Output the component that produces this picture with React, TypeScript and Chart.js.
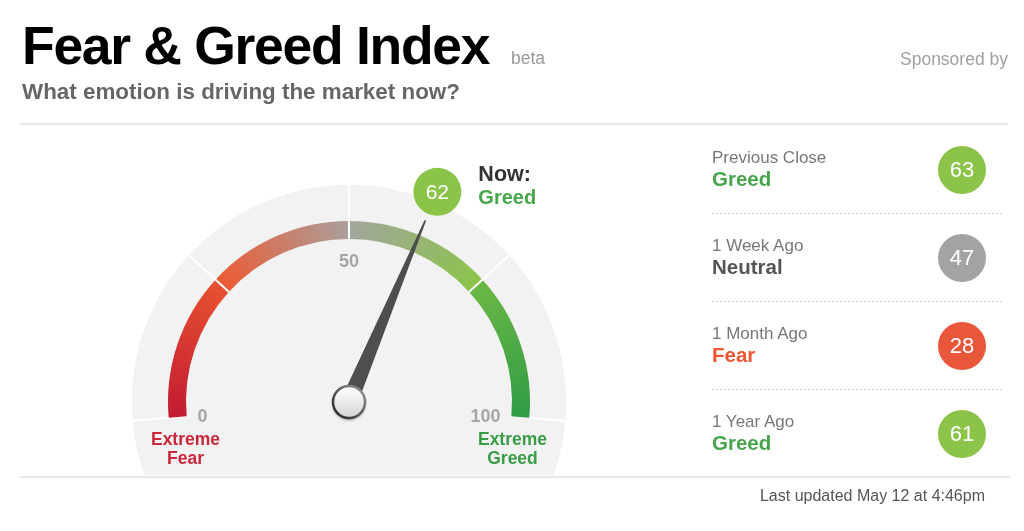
import React, { useEffect, useRef } from "react";
import { Chart, registerables } from "chart.js";

Chart.register(...registerables);

// ---------------- data ----------------
const zoneEdges = [0, 25, 50, 75, 100];
const zoneSizes = [25, 25, 25, 25];
const gaugeTicks = [0, 50, 100];
const extremeLabels = [["Extreme", "Fear"], ["Extreme", "Greed"]];
const currentValue = 62;
const historyLabels = ["Previous Close", "1 Week Ago", "1 Month Ago", "1 Year Ago"];
const historyValues = [63, 47, 28, 61];
const moodNames = ["Extreme Fear", "Fear", "Neutral", "Greed", "Extreme Greed"];
const moodUpper = [25, 45, 55, 75, 100];
const lastUpdated = "Last updated May 12 at 4:46pm";

// ---------------- styles ----------------
const moodTextColors = ["#c9283b", "#ec5632", "#555555", "#47a64c", "#3a9d46"];
const moodBadgeColors = ["#c9283b", "#e9573a", "#a3a3a3", "#8cc44a", "#3a9d46"];
const zoneGradients = [
  ["#c21b33", "#e8522f"],
  ["#ec5a33", "#ab9f9c"],
  ["#a2a69d", "#8cc44a"],
  ["#6cb845", "#2f9c46"],
];
const FONT = "'Liberation Sans', Arial, Helvetica, sans-serif";
const W = 1024;
const H = 531;
const CX = 349;
const CY = 402;
const R = 181;
const INNER = 163;
const SPAN = 190;
const OVERHANG = Math.sin((((SPAN - 180) / 2) * Math.PI) / 180);

function moodIndex(v: number) {
  for (let i = 0; i < moodUpper.length; i++) if (v <= moodUpper[i]) return i;
  return moodUpper.length - 1;
}

function geom(chart: any) {
  const meta = chart.getDatasetMeta(0);
  const arcs = meta.data as any[];
  if (!arcs || !arcs.length) return null;
  const first = arcs[0];
  const last = arcs[arcs.length - 1];
  return {
    cx: first.x as number,
    cy: first.y as number,
    outer: first.outerRadius as number,
    inner: first.innerRadius as number,
    a0: first.startAngle as number,
    a1: last.endAngle as number,
    disc: (first.outerRadius as number) * 1.2,
  };
}

const angleOf = (g: any, v: number) => g.a0 + (v / 100) * (g.a1 - g.a0);

const gaugePlugin = {
  id: "fearGreedGauge",
  beforeDatasetsDraw(chart: any) {
    const g = geom(chart);
    if (!g) return;
    const ctx = chart.ctx as CanvasRenderingContext2D;
    ctx.save();
    ctx.beginPath();
    ctx.rect(0, 0, chart.width, g.cy + 73);
    ctx.clip();
    ctx.beginPath();
    ctx.arc(g.cx, g.cy, g.disc, 0, Math.PI * 2);
    ctx.fillStyle = "#f2f2f2";
    ctx.fill();
    ctx.restore();
  },
  afterDatasetsDraw(chart: any) {
    const g = geom(chart);
    if (!g) return;
    const ctx = chart.ctx as CanvasRenderingContext2D;
    const { cx, cy } = g;
    ctx.save();

    // dividers
    ctx.strokeStyle = "#ffffff";
    ctx.lineWidth = 2;
    zoneEdges.forEach((v) => {
      const t = angleOf(g, v);
      const r0 = v === 0 || v === 100 ? g.outer : g.inner - 1;
      const r1 = g.disc + 1;
      ctx.beginPath();
      ctx.moveTo(cx + Math.cos(t) * r0, cy + Math.sin(t) * r0);
      ctx.lineTo(cx + Math.cos(t) * r1, cy + Math.sin(t) * r1);
      ctx.stroke();
    });

    // tick labels
    ctx.font = `bold 18px ${FONT}`;
    ctx.fillStyle = "#a6a6a6";
    ctx.textBaseline = "middle";
    gaugeTicks.forEach((v) => {
      const t = angleOf(g, v);
      if (v === 0 || v === 100) {
        ctx.textAlign = v === 0 ? "left" : "right";
        ctx.fillText(String(v), cx + Math.cos(t) * 152, cy + Math.sin(t) * 152 + 1.5);
      } else {
        ctx.textAlign = "center";
        ctx.fillText(String(v), cx + Math.cos(t) * 139.5, cy + Math.sin(t) * 139.5);
      }
    });

    // extreme labels
    ctx.font = `bold 17.5px ${FONT}`;
    ctx.textAlign = "center";
    extremeLabels.forEach((lines, i) => {
      const x = cx + (i === 0 ? -163.5 : 163.5);
      ctx.fillStyle = i === 0 ? moodTextColors[0] : moodTextColors[4];
      ctx.fillText(lines[0], x, cy + 38);
      ctx.fillText(lines[1], x, cy + 57.5);
    });

    // needle
    const th = angleOf(g, currentValue);
    const dx = Math.cos(th);
    const dy = Math.sin(th);
    const px = -dy;
    const py = dx;
    const L = g.outer * (197 / 181);
    const tx = cx + dx * L;
    const ty = cy + dy * L;
    ctx.beginPath();
    ctx.moveTo(cx + px * 8.5, cy + py * 8.5);
    ctx.lineTo(tx + px * 0.8, ty + py * 0.8);
    ctx.lineTo(tx - px * 0.8, ty - py * 0.8);
    ctx.lineTo(cx - px * 8.5, cy - py * 8.5);
    ctx.closePath();
    ctx.fillStyle = "#4e4e4e";
    ctx.fill();

    // pivot
    ctx.save();
    ctx.shadowColor = "rgba(0,0,0,0.4)";
    ctx.shadowBlur = 3;
    ctx.shadowOffsetY = 2;
    ctx.beginPath();
    ctx.arc(cx, cy, 16, 0, Math.PI * 2);
    const pg = ctx.createLinearGradient(0, cy - 15, 0, cy + 15);
    pg.addColorStop(0, "#ffffff");
    pg.addColorStop(1, "#d4d4d4");
    ctx.fillStyle = pg;
    ctx.fill();
    ctx.restore();
    ctx.beginPath();
    ctx.arc(cx, cy, 16, 0, Math.PI * 2);
    const sg = ctx.createLinearGradient(cx + 12, cy - 12, cx - 12, cy + 12);
    sg.addColorStop(0, "#8a8a8a");
    sg.addColorStop(1, "#2e2e2e");
    ctx.strokeStyle = sg;
    ctx.lineWidth = 2.5;
    ctx.stroke();

    // value bubble
    const mi = moodIndex(currentValue);
    const bR = g.outer * (228 / 181);
    const bx = cx + dx * bR;
    const by = cy + dy * bR;
    ctx.beginPath();
    ctx.arc(bx, by, 24, 0, Math.PI * 2);
    ctx.fillStyle = moodBadgeColors[mi];
    ctx.fill();
    ctx.fillStyle = "#ffffff";
    ctx.font = `21px ${FONT}`;
    ctx.textAlign = "center";
    ctx.textBaseline = "middle";
    ctx.fillText(String(currentValue), bx, by + 1);

    // Now: label
    ctx.textAlign = "left";
    ctx.textBaseline = "alphabetic";
    ctx.font = `bold 21.5px ${FONT}`;
    ctx.fillStyle = "#333333";
    ctx.fillText("Now:", bx + 41, by - 11.3);
    ctx.font = `bold 20px ${FONT}`;
    ctx.fillStyle = moodTextColors[mi];
    ctx.fillText(moodNames[mi], bx + 41, by + 12.3);

    ctx.restore();
  },
};

function Txt(props: {
  left?: number;
  right?: number;
  top: number;
  size: number;
  color: string;
  bold?: boolean;
  ls?: number;
  children: React.ReactNode;
}) {
  const { left, right, top, size, color, bold, ls, children } = props;
  return (
    <div
      style={{
        position: "absolute",
        left,
        right,
        top,
        fontSize: size,
        lineHeight: 1,
        color,
        fontWeight: bold ? 700 : 400,
        letterSpacing: ls ?? 0,
        whiteSpace: "nowrap",
        fontFamily: FONT,
      }}
    >
      {children}
    </div>
  );
}

export default function App() {
  const ref = useRef<HTMLCanvasElement>(null);

  useEffect(() => {
    const canvas = ref.current;
    if (!canvas) return;
    const chart = new Chart(canvas, {
      type: "doughnut",
      data: {
        labels: zoneEdges.slice(0, -1).map((e, i) => `${e}-${zoneEdges[i + 1]}`),
        datasets: [
          {
            data: zoneSizes,
            borderWidth: 0,
            backgroundColor: (c: any) => {
              const i = c.dataIndex ?? 0;
              const area = c.chart.chartArea;
              const stops = zoneGradients[i] || zoneGradients[0];
              if (!area) return stops[0];
              const r = (area.right - area.left) / 2;
              const cx = (area.left + area.right) / 2;
              const cy = area.top + r;
              const start = ((-90 - SPAN / 2) * Math.PI) / 180;
              const grad = c.chart.ctx.createConicGradient(start, cx, cy);
              const f0 = ((zoneEdges[i] / 100) * SPAN) / 360;
              const f1 = ((zoneEdges[i + 1] / 100) * SPAN) / 360;
              grad.addColorStop(f0, stops[0]);
              grad.addColorStop(f1, stops[1]);
              return grad;
            },
          },
        ],
      },
      options: {
        responsive: false,
        animation: false,
        events: [],
        rotation: -SPAN / 2,
        circumference: SPAN,
        cutout: `${(INNER / R) * 100}%`,
        spacing: 0,
        layout: {
          padding: {
            left: CX - R,
            right: W - CX - R,
            top: CY - R,
            bottom: H - (CY - R) - R * (1 + OVERHANG),
          },
        },
        plugins: {
          legend: { display: false },
          tooltip: { enabled: false },
          title: { display: false },
        },
      },
      plugins: [gaugePlugin],
    } as any);
    return () => chart.destroy();
  }, []);

  return (
    <div
      style={{
        position: "fixed",
        left: 0,
        top: 0,
        width: W,
        height: H,
        background: "#ffffff",
        overflow: "hidden",
        fontFamily: FONT,
      }}
    >
      <canvas
        ref={ref}
        width={W}
        height={H}
        style={{ position: "absolute", left: 0, top: 0, width: W, height: H }}
      />
      <Txt left={22} top={19} size={53.5} color="#000000" bold ls={-1.3}>
        Fear &amp; Greed Index
      </Txt>
      <Txt left={511} top={49.5} size={17.5} color="#9a9a9a">
        beta
      </Txt>
      <Txt left={22} top={81} size={22.4} color="#666666" bold>
        What emotion is driving the market now?
      </Txt>
      <Txt right={16} top={51.2} size={17.5} color="#a0a0a0">
        Sponsored by
      </Txt>
      <div style={{ position: "absolute", left: 20, top: 123, width: 988, height: 2, background: "#e8e8e8" }} />
      <div style={{ position: "absolute", left: 20, top: 476, width: 990, height: 2, background: "#e8e8e8" }} />

      {historyLabels.map((lab, i) => {
        const v = historyValues[i];
        const mi = moodIndex(v);
        return (
          <React.Fragment key={lab}>
            <Txt left={712} top={148.9 + 88 * i} size={17} color="#777777">
              {lab}
            </Txt>
            <Txt left={712} top={169.4 + 88 * i} size={20.5} color={moodTextColors[mi]} bold>
              {moodNames[mi]}
            </Txt>
            <div
              style={{
                position: "absolute",
                left: 962 - 24,
                top: 169.5 + 88 * i - 24,
                width: 48,
                height: 48,
                borderRadius: "50%",
                background: moodBadgeColors[mi],
                color: "#ffffff",
                fontSize: 22,
                display: "flex",
                alignItems: "center",
                justifyContent: "center",
                fontFamily: FONT,
              }}
            >
              {v}
            </div>
            {i < historyLabels.length - 1 && (
              <div
                style={{
                  position: "absolute",
                  left: 712,
                  top: 213 + 88 * i,
                  width: 290,
                  height: 1,
                  background: "repeating-linear-gradient(to right, #cccccc 0px, #cccccc 2px, transparent 2px, transparent 4px)",
                }}
              />
            )}
          </React.Fragment>
        );
      })}

      <Txt right={39} top={487.5} size={16} color="#555555">
        {lastUpdated}
      </Txt>
    </div>
  );
}
